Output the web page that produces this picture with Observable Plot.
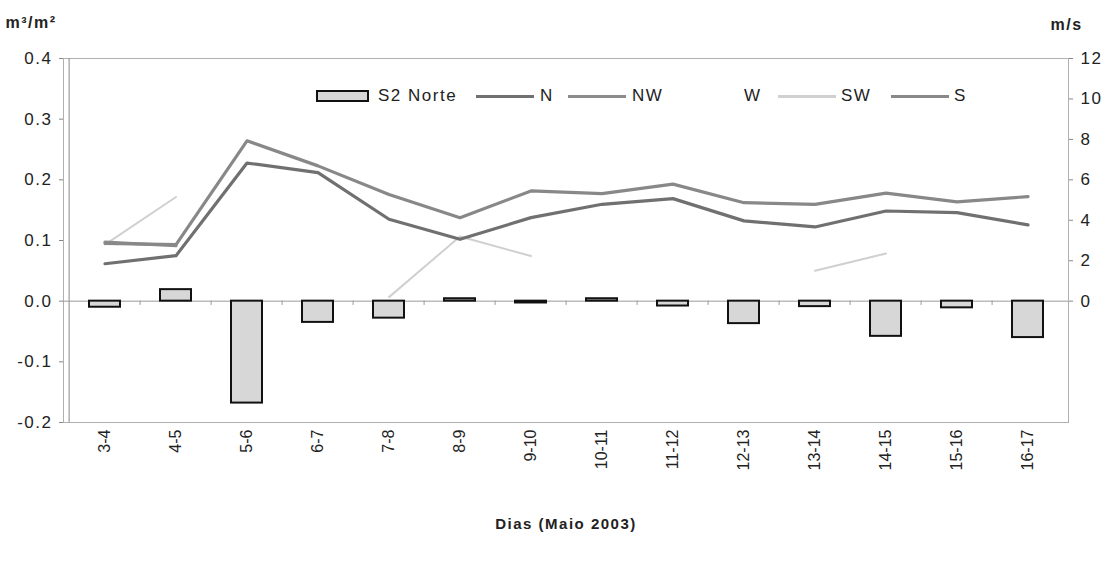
<!DOCTYPE html>
<html><head><meta charset="utf-8">
<script src="https://cdn.jsdelivr.net/npm/d3@7"></script>
<script src="https://cdn.jsdelivr.net/npm/@observablehq/plot@0.6"></script>
<style>
body{margin:0;background:#fff;font-family:"Liberation Sans",Arial,sans-serif;}
#wrap{position:relative;width:1110px;height:566px;overflow:hidden;}
#wrap svg.chart{position:absolute;left:0;top:0;}
g[aria-label="y-axis tick label"] text{letter-spacing:1.5px;}
.leg{position:absolute;left:0;top:0;width:1110px;height:566px;pointer-events:none;}
.leg span{position:absolute;font-size:17px;letter-spacing:1.5px;color:#222;line-height:20px;}
.leg div{position:absolute;}
</style></head><body><div id="wrap"></div>
<script>
// ---- data ----
const categories = ["3-4","4-5","5-6","6-7","7-8","8-9","9-10","10-11","11-12","12-13","13-14","14-15","15-16","16-17"];
const s2Norte = [-0.010, 0.019, -0.168, -0.035, -0.028, 0.004, -0.003, 0.004, -0.008, -0.037, -0.009, -0.058, -0.011, -0.060];
const windN  = [1.85, 2.25, 6.83, 6.36, 4.05, 3.06, 4.13, 4.79, 5.07, 3.97, 3.67, 4.46, 4.38, 3.77];
const windNW = [2.92, 2.74, null, null, null, null, null, null, null, null, null, null, null, null];
const windSW = [2.80, 5.15, null, null, 0.20, 3.20, 2.23, null, null, null, 1.50, 2.36, null, null];
const windS  = [2.86, 2.80, 7.93, 6.69, 5.27, 4.13, 5.45, 5.32, 5.79, 4.87, 4.79, 5.34, 4.91, 5.17];
const leftTicks = [-0.2, -0.1, 0, 0.1, 0.2, 0.3, 0.4];
const rightTicks = [0, 2, 4, 6, 8, 10, 12];

// ---- layout ----
const W = 1110, H = 566, ml = 63, mr = 42, mt = 58, mb = 144;
const k = 0.4 / 12;               // m/s -> m3/m2 axis units
const bw = (W - ml - mr) / categories.length;
const colN = "#707070", colNW = "#8c8c8c", colW = "#ffffff", colSW = "#d0d0d0", colS = "#888888";

const bars = categories.map((c, i) => ({cat: c, v: s2Norte[i]}));
const series = arr => categories.map((c, i) => ({cat: c, v: arr[i] == null ? NaN : arr[i] * k}));

const chart = Plot.plot({
  width: W, height: H,
  marginLeft: ml, marginRight: mr, marginTop: mt, marginBottom: mb,
  style: {fontFamily: '"Liberation Sans", Arial, sans-serif', color: "#222", background: "transparent"},
  x: {type: "band", domain: categories, padding: 0},
  y: {domain: [-0.2, 0.4]},
  marks: [
    Plot.frame({stroke: "#b0b0b0"}),
    Plot.ruleX([categories[0]], {dx: -bw / 2, stroke: "#888"}),
    Plot.ruleY([0], {stroke: "#999"}),
    Plot.ruleX(categories.slice(1), {x: d => d, dx: -bw / 2, y1: 0, y2: -0.007, stroke: "#999"}),
    Plot.barY(bars, {x: "cat", y: "v", fill: "#d7d7d7", stroke: "#111", strokeWidth: 2, insetLeft: 20, insetRight: 20}),
    Plot.lineY(series(windSW), {x: "cat", y: "v", stroke: colSW, strokeWidth: 2}),
    Plot.lineY(series(windNW), {x: "cat", y: "v", stroke: colNW, strokeWidth: 3.2}),
    Plot.lineY(series(windS), {x: "cat", y: "v", stroke: colS, strokeWidth: 3.2}),
    Plot.lineY(series(windN), {x: "cat", y: "v", stroke: colN, strokeWidth: 3.2}),
    Plot.axisY({anchor: "left", ticks: leftTicks, tickFormat: d => d.toFixed(1), tickSize: 4, tickPadding: 7, fontSize: 17, stroke: "#888", label: null}),
    Plot.axisY({anchor: "right", ticks: rightTicks.map(v => v * k), tickFormat: d => String(Math.round(d / k)), tickSize: 4, tickPadding: 8, fontSize: 17, stroke: "#888", label: null}),
    Plot.axisX({anchor: "bottom", tickRotate: -90, tickSize: 0, tickPadding: 7, fontSize: 16, label: null}),
    Plot.text(["m³/m²"], {frameAnchor: "top-left", dx: -58, dy: -42, textAnchor: "start", fontSize: 16, fontWeight: "bold", fill: "#222"}),
    Plot.text(["m/s"], {frameAnchor: "top-right", dx: -18, dy: -40, textAnchor: "start", fontSize: 16, fontWeight: "bold", fill: "#222"}),
    Plot.text(["Dias (Maio 2003)"], {frameAnchor: "bottom", dy: 106, fontSize: 15, fontWeight: "bold", fill: "#222"})
  ]
});
chart.classList.add("chart");
chart.querySelectorAll('g[aria-label="text"] text').forEach(t => t.style.letterSpacing = "1.5px");
document.getElementById("wrap").appendChild(chart);

// ---- legend ----
const leg = document.createElement("div");
leg.className = "leg";
const legendItems = [
  {label: "S2 Norte", kind: "bar", x0: 316, w: 53, tx: 378},
  {label: "N", kind: "line", color: colN, x0: 476, w: 58, tx: 540},
  {label: "NW", kind: "line", color: colNW, x0: 568, w: 58, tx: 632},
  {label: "W", kind: "line", color: colW, x0: 684, w: 58, tx: 744},
  {label: "SW", kind: "line", color: colSW, x0: 778, w: 58, tx: 841},
  {label: "S", kind: "line", color: colS, x0: 891, w: 58, tx: 954}
];
const cy = 96;
legendItems.forEach(it => {
  const sw = document.createElement("div");
  if (it.kind === "bar") {
    Object.assign(sw.style, {left: it.x0 + "px", top: (cy - 6) + "px", width: it.w + "px", height: "12px", background: "#d7d7d7", border: "2px solid #111", boxSizing: "border-box"});
  } else {
    Object.assign(sw.style, {left: it.x0 + "px", top: (cy - 1.5) + "px", width: it.w + "px", height: "3px", background: it.color});
  }
  leg.appendChild(sw);
  const s = document.createElement("span");
  s.textContent = it.label;
  s.style.left = it.tx + "px";
  s.style.top = (cy - 10) + "px";
  leg.appendChild(s);
});
document.getElementById("wrap").appendChild(leg);
</script></body></html>
